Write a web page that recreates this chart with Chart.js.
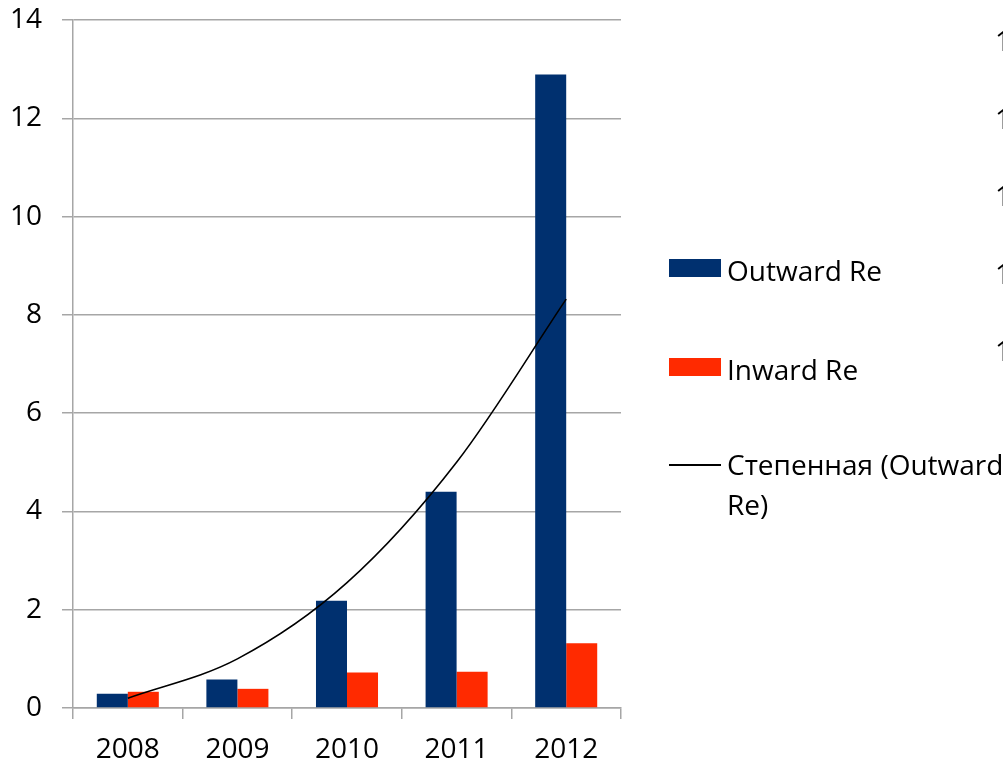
<!DOCTYPE html>
<html>
<head>
<meta charset="utf-8">
<script src="https://cdn.jsdelivr.net/npm/chart.js@4"></script>
<style>
  html, body { margin: 0; padding: 0; background: #fff; overflow: hidden; }
  #wrap { position: relative; width: 1003px; height: 766px; overflow: hidden; }
  #legend { position: absolute; left: 669px; top: 0; font-family: 'Open Sans', sans-serif; font-size: 28px; color: #000; }
  .item { position: absolute; left: 0; display: flex; align-items: flex-start; white-space: nowrap; }
  .swatch { width: 52px; margin-right: 6px; flex: none; }
  .txt { white-space: normal; width: 315px; line-height: 40px; }
  .edge { position: absolute; left: 995px; font-family: 'Open Sans', sans-serif; font-size: 28px; line-height: 30px; }
</style>
</head>
<body>
<div id="wrap">
  <canvas id="chart"></canvas>
  <div id="legend"></div>
  <div id="edge"></div>
</div>
<script>
'use strict';

// data
let years = ['2008', '2009', '2010', '2011', '2012'];
let outwardRe = [0.29, 0.58, 2.18, 4.4, 12.89];
let inwardRe = [0.33, 0.39, 0.72, 0.74, 1.32];
let trendOutward = [0.2, 1.0, 2.55, 5.0, 8.32];   // степенная линия тренда
let edgeLabels = ['1', '1', '1', '1', '1'];        // cut-off labels at the right edge

let blue = '#00306f';
let red = '#ff2a00';
let gridGrey = '#a6a6a6';
let font = { family: "'Open Sans', sans-serif", size: 28 };

let canvasElem = document.getElementById('chart');

let chartData = {
  labels: years,
  datasets: [{
    type: 'line',
    label: 'Степенная (Outward Re)',
    data: trendOutward,
    borderColor: '#000',
    borderWidth: 1.6,
    pointRadius: 0,
    cubicInterpolationMode: 'monotone',
    fill: false,
    order: 0
  },
  {
    label: 'Outward Re',
    data: outwardRe,
    backgroundColor: blue,
    order: 1
  },
  {
    label: 'Inward Re',
    data: inwardRe,
    backgroundColor: red,
    order: 1
  }]
};

let chartConfig = {
  type: 'bar',
  data: chartData,
  options: {
    responsive: true,
    maintainAspectRatio: false,
    animation: false,
    categoryPercentage: 0.566,
    barPercentage: 1.0,
    layout: { padding: { left: 0, right: 382, top: 20, bottom: 0 } },
    plugins: {
      legend: { display: false },
      tooltip: { enabled: false }
    },
    scales: {
      x: {
        grid: { drawOnChartArea: false, drawTicks: true, tickLength: 11, color: gridGrey, lineWidth: 1.5 },
        border: { display: true, color: gridGrey, width: 1.5 },
        ticks: { font: font, color: '#000', padding: 14 },
        afterFit: function(scale) {
          scale.height = 58;
          scale.paddingLeft = 0;
          scale.paddingRight = 0;
        }
      },
      y: {
        min: 0,
        max: 14,
        ticks: { stepSize: 2, font: font, color: '#000', padding: 20 },
        grid: { color: gridGrey, lineWidth: 1.5, tickLength: 11 },
        border: { display: true, color: gridGrey, width: 1.5 },
        afterFit: function(scale) {
          scale.width = 73;
          scale.paddingTop = 0;
          scale.paddingBottom = 0;
        }
      }
    }
  }
};

let myChart = new Chart(canvasElem, chartConfig);

// html legend, built from the datasets
let legend = document.getElementById('legend');
let legendOrder = [1, 2, 0];
let legendTops = [250, 349, 444];
legendOrder.forEach(function(idx, i) {
  let ds = chartData.datasets[idx];
  let item = document.createElement('div');
  item.className = 'item';
  item.style.top = legendTops[i] + 'px';
  let sw = document.createElement('div');
  sw.className = 'swatch';
  if (ds.type === 'line') {
    sw.style.height = '2px';
    sw.style.marginTop = '20px';
    sw.style.background = ds.borderColor;
  } else {
    sw.style.height = '18px';
    sw.style.marginTop = '9px';
    sw.style.background = ds.backgroundColor;
  }
  let txt = document.createElement('div');
  txt.className = 'txt';
  txt.textContent = ds.label;
  item.appendChild(sw);
  item.appendChild(txt);
  legend.appendChild(item);
});

// labels of the neighbouring chart peeking in at the right edge
let edge = document.getElementById('edge');
edgeLabels.forEach(function(t, i) {
  let s = document.createElement('div');
  s.className = 'edge';
  s.style.top = (25 + i * 77.5) + 'px';
  s.textContent = t;
  edge.appendChild(s);
});
</script>
</body>
</html>
